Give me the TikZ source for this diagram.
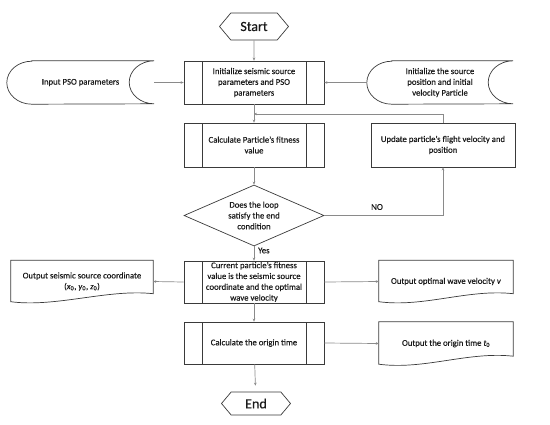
\documentclass[tikz,border=0pt]{standalone}
\usepackage{fontspec}
\setmainfont{Carlito}[FakeBold=0.35]
\usetikzlibrary{shapes.symbols,shapes.geometric,arrows.meta,calc}
\definecolor{boxc}{HTML}{3A3A3A}
\definecolor{linec}{HTML}{8A8A8A}
\definecolor{txt}{HTML}{1A1A1A}
\tikzset{
  base/.style={font=\fontsize{8.7}{10.8}\selectfont, text=txt, align=center, inner sep=0pt},
  term/.style={base, draw=boxc, line width=0.7pt, shape=signal, signal to=west and east,
     signal pointer angle=100, font=\fontsize{14}{16}\selectfont},
  proc/.style={base, draw=boxc, line width=0.7pt, rectangle, minimum width=140pt, minimum height=43pt,
     path picture={\draw[boxc,line width=0.7pt]
        ([xshift=18pt]path picture bounding box.north west) -- ([xshift=18pt]path picture bounding box.south west)
        ([xshift=-18pt]path picture bounding box.north east) -- ([xshift=-18pt]path picture bounding box.south east);}},
  plainbox/.style={base, draw=boxc, line width=0.7pt, rectangle, minimum width=144pt, minimum height=44pt},
  decide/.style={base, draw=boxc, line width=0.7pt, shape=diamond, aspect=2.3, minimum width=140pt, minimum height=61pt},
  stored/.style={base, rectangle, minimum height=43pt},
  docbox/.style={base, rectangle, minimum height=42pt},
  conn/.style={draw=linec, line width=0.7pt},
  arr/.style={conn, -{Stealth[length=3pt,width=2.6pt]}},
  shp/.style={draw=boxc, line width=0.7pt},
}
\begin{document}
\begin{tikzpicture}[x=1pt,y=1pt]
\useasboundingbox (0,0) rectangle (550,-424);
% terminals
\node[term, minimum width=69pt, minimum height=27pt] (start) at (254,-26.5) {Start};
\node[term, minimum width=69pt, minimum height=23pt] (end) at (256,-403.5) {End};
% process boxes
\node[proc] (init) at (254,-82.5) {Initialize seismic source\\parameters and PSO\\parameters};
\node[proc, minimum height=44pt] (calc) at (254,-145) {Calculate Particle’s fitness\\value};
\node[plainbox] (update) at (443,-145) {Update particle’s flight velocity and\\position};
\node[decide] (loop) at (254,-215.5) {Does the loop\\satisfy the end\\condition};
\node[proc, minimum height=42pt] (cur) at (254,-282) {Current particle’s fitness\\value is the seismic source\\coordinate and the optimal\\wave velocity};
\node[proc, minimum height=42pt] (orig) at (254,-343) {Calculate the origin time};
% stored data
\node[stored, minimum width=147pt] (ipso) at (80.5,-82.5) {Input PSO parameters};
\node[stored, minimum width=146pt] (isrc) at (440,-82.5) {Initialize the source\\position and initial\\velocity Particle};
\foreach \n in {ipso,isrc}{
  \draw[shp] ([xshift=25pt]\n.north west) -- (\n.north east)
     arc[start angle=90,end angle=270,x radius=25pt,y radius=21.5pt]
     -- ([xshift=25pt]\n.south west)
     arc[start angle=270,end angle=90,x radius=25pt,y radius=21.5pt] -- cycle;
}
% documents
\node[docbox, minimum width=142pt] (outc) at (82,-281.5) {Output seismic source coordinate\\(\textit{x}\textsubscript{0}, \textit{y}\textsubscript{0}, \textit{z}\textsubscript{0})};
\node[docbox, minimum width=134pt] (outv) at (446,-281.5) {Output optimal wave velocity \textit{v}};
\node[docbox, minimum width=134pt, minimum height=43pt] (outt) at (446,-343.5) {Output the origin time \textit{t}\textsubscript{0}};
\foreach \n in {outc,outv,outt}{
  \draw[shp] (\n.north west) -- (\n.north east) -- ([yshift=9pt]\n.south east)
     .. controls +(-45,5) and +(45,-6) .. ([yshift=1pt]\n.south west) -- cycle;
}
% connectors
\coordinate (jn) at (254,-114);
\draw[arr] (start) -- (init);
\draw[arr] (ipso.east) -- (init.west);
\draw[arr] (isrc.west) -- (init.east);
\draw[arr] (init) -- (calc);
\draw[arr] (update.north) |- (jn);
\draw[arr] (calc) -- (loop);
\draw[arr] (loop.east) -| (update.south);
\node[base, font=\fontsize{9}{10}\selectfont] (nolab) at (377,-207) {NO};
\draw[arr] (loop.south) -- (cur.north);
\node[base, anchor=west] (yeslab) at (258,-250.5) {Yes};
\draw[arr] (cur.west) -- (outc.east);
\draw[arr] (cur.east) -- (outv.west);
\draw[arr] (cur) -- (orig);
\draw[arr] (orig.east) -- (outt.west);
\draw[arr, shorten >=6pt] (orig) -- (end);
\end{tikzpicture}
\end{document}
